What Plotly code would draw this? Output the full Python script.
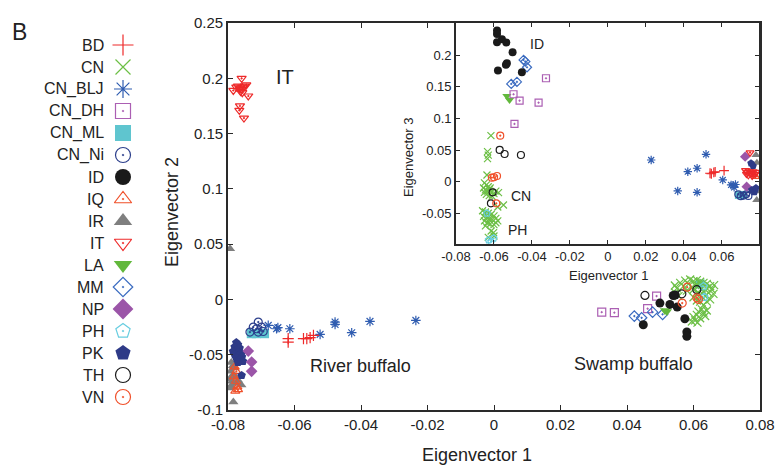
import plotly.graph_objects as go

# page body has an 8px margin; the figure is sized so it fills the 784x471 window
OFF = 8
W, H = 784 - OFF, 471 - OFF

# ---------------- data: main plot (Eigenvector 1 vs Eigenvector 2) ----------------
groups = ["BD", "CN", "CN_BLJ", "CN_DH", "CN_ML", "CN_Ni", "ID", "IQ", "IR",
          "IT", "LA", "MM", "NP", "PH", "PK", "TH", "VN"]

bd_ev1 = [-0.0619, -0.0619, -0.0573, -0.0563, -0.0553, -0.0543]
bd_ev2 = [-0.0355, -0.0386, -0.0355, -0.0355, -0.0346, -0.0325]

cn_ev1 = [0.0560, 0.0575, 0.0590, 0.0600, 0.0610, 0.0620, 0.0630, 0.0640, 0.0650, 0.0655,
          0.0645, 0.0635, 0.0625, 0.0615, 0.0605, 0.0595, 0.0585, 0.0570, 0.0580, 0.0600,
          0.0615, 0.0630, 0.0640, 0.0620, 0.0650, 0.0640, 0.0630, 0.0620, 0.0550, 0.0545,
          0.0555, 0.0600, 0.0610, 0.0660, 0.0662, 0.0544,
          0.0625, 0.0615, 0.0630, 0.0610, 0.0600, 0.0620, 0.0605, 0.0595, 0.0612, 0.0635, 0.0640]
cn_ev2 = [0.0150, 0.0170, 0.0180, 0.0165, 0.0175, 0.0160, 0.0150, 0.0140, 0.0120, 0.0090,
          0.0060, 0.0030, 0.0100, 0.0120, 0.0130, 0.0110, 0.0140, 0.0120, 0.0080, 0.0090,
          0.0060, 0.0070, 0.0100, 0.0040, 0.0000, -0.0020, -0.0050, -0.0020, 0.0100, 0.0060,
          0.0030, 0.0020, -0.0010, 0.0050, 0.0130, 0.0126,
          -0.0090, -0.0110, -0.0120, -0.0140, -0.0160, -0.0170, -0.0190, -0.0200, -0.0210, -0.0150, -0.0100]

blj_ev1 = [-0.0679, -0.0654, -0.0650, -0.0614, -0.0523, -0.0478, -0.0478, -0.0428, -0.0373, -0.0235]
blj_ev2 = [-0.0235, -0.0265, -0.0255, -0.0265, -0.0316, -0.0205, -0.0226, -0.0301, -0.0199, -0.0190]

dh_ev1 = [0.0324, 0.0362, 0.0489, 0.0462]
dh_ev2 = [-0.0115, -0.0120, 0.0030, -0.0084]

ml_ev1 = [-0.0730, -0.0715, -0.0700, -0.0690, 0.0620]
ml_ev2 = [-0.0310, -0.0310, -0.0305, -0.0310, 0.0140]

ni_ev1 = [-0.0709, -0.0724, -0.0699, -0.0714, -0.0734, -0.0709, -0.0694]
ni_ev2 = [-0.0205, -0.0250, -0.0250, -0.0265, -0.0295, -0.0295, -0.0290]

id_ev1 = [0.0449, 0.0499, 0.0529, 0.0539, 0.0551, 0.0574, 0.0580, 0.0580, 0.0545]
id_ev2 = [-0.0229, -0.0033, -0.0045, 0.0036, -0.0069, -0.0175, -0.0295, -0.0334, 0.0040]

iq_ev1 = [-0.0780, -0.0775, -0.0782, -0.0776, -0.0772, -0.0778, -0.0770]
iq_ev2 = [-0.0610, -0.0650, -0.0700, -0.0740, -0.0790, -0.0830, -0.0815]

ir_ev1 = [-0.0794, -0.0790, -0.0785, -0.0780, -0.0792, -0.0784, -0.0778, -0.0795,
          -0.0788, -0.0775, -0.0790, -0.0760, -0.0784, -0.0795, -0.0770]
ir_ev2 = [0.0458, -0.0570, -0.0600, -0.0620, -0.0650, -0.0680, -0.0700, -0.0720,
          -0.0740, -0.0760, -0.0780, -0.0775, -0.0928, -0.0800, -0.0730]

it_ev1 = [-0.0759, -0.0784, -0.0775, -0.0770, -0.0765, -0.0760, -0.0755, -0.0750,
          -0.0745, -0.0762, -0.0757, -0.0739, -0.0764, -0.0766, -0.0752]
it_ev2 = [0.200, 0.189, 0.192, 0.193, 0.191, 0.190, 0.192, 0.193,
          0.194, 0.188, 0.187, 0.184, 0.175, 0.171, 0.164]

la_ev1 = [0.0514, 0.0520]
la_ev2 = [-0.0099, -0.0110]

mm_ev1 = [0.0422, 0.0444, 0.0477, 0.0507]
mm_ev2 = [-0.0151, -0.0166, -0.0115, -0.0135]

np_ev1 = [-0.0739, -0.0729, -0.0729]
np_ev2 = [-0.0467, -0.0566, -0.0650]

ph_ev1 = [0.0630, 0.0632]
ph_ev2 = [0.0117, 0.0020]

pk_ev1 = [-0.0775, -0.0770, -0.0780, -0.0765, -0.0775, -0.0785, -0.0770, -0.0760,
          -0.0780, -0.0770, -0.0758, -0.0775, -0.0765, -0.0755, -0.0770, -0.0759]
pk_ev2 = [-0.0390, -0.0410, -0.0430, -0.0440, -0.0460, -0.0470, -0.0480, -0.0490,
          -0.0500, -0.0510, -0.0520, -0.0530, -0.0545, -0.0560, -0.0570, -0.0687]

th_ev1 = [0.0454, 0.0565, 0.0610]
th_ev2 = [0.0036, 0.0051, 0.0088]

vn_ev1 = [0.0581, 0.0566, 0.0610, 0.0615]
vn_ev2 = [0.0111, -0.0033, 0.0015, 0.0000]

# ---------------- data: inset (Eigenvector 1 vs Eigenvector 3) ----------------
bd_in1 = [0.0538, 0.0558, 0.0565, 0.0612, 0.0545]
bd_in3 = [0.0133, 0.0147, 0.0155, 0.0174, 0.0125]

cn_in1 = [-0.0616, -0.0634, -0.0630, -0.0634, -0.0637,
          -0.0650, -0.0640, -0.0630, -0.0620, -0.0655, -0.0645, -0.0635, -0.0625, -0.0615,
          -0.0600, -0.0640, -0.0625, -0.0610, -0.0590, -0.0576, -0.0650,
          -0.0550, -0.0580,
          -0.0660, -0.0645, -0.0630, -0.0615, -0.0600, -0.0655, -0.0640, -0.0625, -0.0610,
          -0.0590, -0.0580, -0.0650, -0.0635, -0.0620, -0.0600, -0.0645, -0.0590, -0.0602,
          -0.0630, -0.0600, -0.0615]
cn_in3 = [0.0728, 0.0475, 0.0420, 0.0364, 0.0106,
          -0.0020, -0.0050, -0.0080, -0.0100, -0.0100, -0.0130, -0.0150, -0.0120, -0.0170,
          -0.0190, -0.0200, -0.0220, -0.0230, -0.0150, -0.0174, -0.0170,
          -0.0369, -0.0400,
          -0.0460, -0.0480, -0.0500, -0.0520, -0.0540, -0.0550, -0.0570, -0.0590, -0.0600,
          -0.0580, -0.0620, -0.0620, -0.0650, -0.0670, -0.0680, -0.0700, -0.0650, -0.0807,
          -0.0880, -0.0860, -0.0780]

blj_in1 = [0.0228, 0.0368, 0.0421, 0.0470, 0.0470, 0.0517, 0.0605, 0.0649, 0.0660, 0.0672, 0.0665]
blj_in3 = [0.0343, -0.0147, 0.0158, 0.0212, -0.0168, 0.0433, 0.0027, -0.0052, -0.0060, -0.0045, -0.0090]

dh_in1 = [-0.0326, -0.0497, -0.0465, -0.0365, -0.0492]
dh_in3 = [0.1636, 0.1383, 0.1282, 0.1250, 0.0913]

ml_in1 = [0.0690, 0.0700, 0.0712]
ml_in3 = [-0.0210, -0.0215, -0.0210]

ni_in1 = [0.0687, 0.0700, 0.0715, 0.0728, 0.0740]
ni_in3 = [-0.0200, -0.0230, -0.0220, -0.0200, -0.0225]

id_in1 = [-0.0584, -0.0584, -0.0558, -0.0584, -0.0535, -0.0502, -0.0532, -0.0537, -0.0579, -0.0453]
id_in3 = [0.2390, 0.2337, 0.2253, 0.2206, 0.2200, 0.2047, 0.1873, 0.1850, 0.1757, 0.1730]

iq_in1 = [0.0770, 0.0778]
iq_in3 = [0.0110, 0.0080]

ir_in1 = [0.0780, 0.0784, 0.0785, 0.0782]
ir_in3 = [0.0420, -0.0290, 0.0300, -0.0150]

it_in1 = [0.0749, 0.0725, 0.0735, 0.0745, 0.0755, 0.0765, 0.0775, 0.0740, 0.0760, 0.0780, 0.0730]
it_in3 = [0.0459, 0.0180, 0.0150, 0.0170, 0.0130, 0.0160, 0.0120, 0.0100, 0.0090, 0.0150, 0.0120]

la_in1 = [-0.0532, -0.0518]
la_in3 = [0.1356, 0.1293]

mm_in1 = [-0.0444, -0.0435, -0.0426, -0.0509, -0.0479]
mm_in3 = [0.1926, 0.1900, 0.1810, 0.1546, 0.1578]

np_in1 = [0.0723, 0.0731]
np_in3 = [0.0396, -0.0079]

ph_in1 = [-0.0637, -0.0628, -0.0602, -0.0615]
ph_in3 = [-0.0500, -0.0923, -0.0896, -0.0950]

pk_in1 = [0.0754, 0.0765, 0.0758, 0.0772, 0.0780]
pk_in3 = [0.0291, 0.0250, -0.0131, -0.0163, -0.0100]

th_in1 = [-0.0570, -0.0544, -0.0458, -0.0607, -0.0616]
th_in3 = [0.0502, 0.0438, 0.0422, -0.0168, -0.0342]

vn_in1 = [-0.0567, -0.0611, -0.0584, -0.0588, -0.0600]
vn_in3 = [0.0728, 0.0063, 0.0090, -0.0342, 0.0070]

main_x_ticks = [-0.08, -0.06, -0.04, -0.02, 0, 0.02, 0.04, 0.06, 0.08]
main_x_labels = ["-0.08", "-0.06", "-0.04", "-0.02", "0", "0.02", "0.04", "0.06", "0.08"]
main_y_ticks = [-0.1, -0.05, 0, 0.05, 0.1, 0.15, 0.2, 0.25]
main_y_labels = ["-0.1", "-0.05", "0", "0.05", "0.1", "0.15", "0.2", "0.25"]
in_x_ticks = [-0.08, -0.06, -0.04, -0.02, 0, 0.02, 0.04, 0.06]
in_x_labels = ["-0.08", "-0.06", "-0.04", "-0.02", "0", "0.02", "0.04", "0.06"]
in_y_ticks = [-0.1, -0.05, 0, 0.05, 0.1, 0.15, 0.2]
in_y_labels = ["-0.1", "-0.05", "0", "0.05", "0.1", "0.15", "0.2"]

# ---------------- styles ----------------
main_data = {
    "BD": (bd_ev1, bd_ev2), "CN": (cn_ev1, cn_ev2), "CN_BLJ": (blj_ev1, blj_ev2),
    "CN_DH": (dh_ev1, dh_ev2), "CN_ML": (ml_ev1, ml_ev2), "CN_Ni": (ni_ev1, ni_ev2),
    "ID": (id_ev1, id_ev2), "IQ": (iq_ev1, iq_ev2), "IR": (ir_ev1, ir_ev2),
    "IT": (it_ev1, it_ev2), "LA": (la_ev1, la_ev2), "MM": (mm_ev1, mm_ev2),
    "NP": (np_ev1, np_ev2), "PH": (ph_ev1, ph_ev2), "PK": (pk_ev1, pk_ev2),
    "TH": (th_ev1, th_ev2), "VN": (vn_ev1, vn_ev2),
}
inset_data = {
    "BD": (bd_in1, bd_in3), "CN": (cn_in1, cn_in3), "CN_BLJ": (blj_in1, blj_in3),
    "CN_DH": (dh_in1, dh_in3), "CN_ML": (ml_in1, ml_in3), "CN_Ni": (ni_in1, ni_in3),
    "ID": (id_in1, id_in3), "IQ": (iq_in1, iq_in3), "IR": (ir_in1, ir_in3),
    "IT": (it_in1, it_in3), "LA": (la_in1, la_in3), "MM": (mm_in1, mm_in3),
    "NP": (np_in1, np_in3), "PH": (ph_in1, ph_in3), "PK": (pk_in1, pk_in3),
    "TH": (th_in1, th_in3), "VN": (vn_in1, vn_in3),
}

style = {
    "BD": ("cross-thin-open", "#ee2a2a"),
    "CN": ("x-thin-open", "#6cbf45"),
    "CN_BLJ": ("asterisk-open", "#2f5cb0"),
    "CN_DH": ("square-open-dot", "#ab5fb3"),
    "CN_ML": ("square", "#5fc5cf"),
    "CN_Ni": ("circle-open-dot", "#2c3f8c"),
    "ID": ("circle", "#1a1a1a"),
    "IQ": ("triangle-up-open-dot", "#f0502a"),
    "IR": ("triangle-up", "#7f7f7f"),
    "IT": ("triangle-down-open-dot", "#ee2a2a"),
    "LA": ("triangle-down", "#62b83c"),
    "MM": ("diamond-open-dot", "#3a6bc0"),
    "NP": ("diamond", "#9b55a8"),
    "PH": ("pentagon-open-dot", "#67cde0"),
    "PK": ("pentagon", "#2e3a87"),
    "TH": ("circle-open", "#1a1a1a"),
    "VN": ("circle-open-dot", "#f0502a"),
}

FONT = "Arial, Liberation Sans, Helvetica, sans-serif"
TXT = "#222222"
AX = "#2a2a2a"

fig = go.Figure()


def marker(sym, col, size):
    if "open" in sym:
        return dict(symbol=sym, size=size, color=col, line=dict(color=col, width=1.2))
    return dict(symbol=sym, size=size + 1, color=col, line=dict(width=0))


order_main = ["IR", "IQ", "PK", "NP", "CN_ML", "CN_Ni", "CN_BLJ", "BD", "IT",
              "CN", "PH", "CN_DH", "MM", "LA", "ID", "TH", "VN"]
for g in order_main:
    xs, ys = main_data[g]
    sym, col = style[g]
    fig.add_trace(go.Scatter(x=xs, y=ys, mode="markers", xaxis="x", yaxis="y",
                             marker=marker(sym, col, 8), showlegend=False, name=g))

order_in = ["CN", "PH", "TH", "VN", "LA", "CN_DH", "MM", "ID", "CN_BLJ", "BD",
            "CN_ML", "CN_Ni", "NP", "IR", "IQ", "IT", "PK"]
for g in order_in:
    xs, ys = inset_data[g]
    sym, col = style[g]
    fig.add_trace(go.Scatter(x=xs, y=ys, mode="markers", xaxis="x2", yaxis="y2",
                             marker=marker(sym, col, 7), showlegend=False, name=g))

# geometry, in window pixels (converted to figure pixels by removing OFF)
MX0, MX1, MY0, MY1 = 228, 760, 23, 410
IX0, IX1, IY0, IY1 = 456, 759, 23, 244


def px(v):
    return (v - OFF) / W


def py(v):
    return 1 - (v - OFF) / H


# custom legend (symbol to the right of the label), drawn on a pixel-unit axis
LEG_X_SYM = 123 - OFF
LEG_X_TXT = 106 - OFF
LEG_Y0 = 45 - OFF
LEG_DY = 22.0
for i, g in enumerate(groups):
    sym, col = style[g]
    yy = LEG_Y0 + i * LEG_DY
    fig.add_trace(go.Scatter(x=[LEG_X_SYM], y=[yy], mode="markers", xaxis="x3", yaxis="y3",
                             marker=marker(sym, col, 15), showlegend=False, name=g))
    fig.add_annotation(x=LEG_X_TXT, y=yy, xref="x3", yref="y3", text=g, showarrow=False,
                       xanchor="right", yanchor="middle",
                       font=dict(family=FONT, size=16, color=TXT))

axis_common = dict(showgrid=False, zeroline=False, showline=True, linecolor=AX,
                   mirror="allticks", ticks="inside", tickcolor=AX, automargin=False)

fig.update_layout(
    width=W, height=H,
    margin=dict(l=0, r=0, t=0, b=0, pad=0),
    paper_bgcolor="white", plot_bgcolor="white",
    font=dict(family=FONT, color=TXT),
    showlegend=False,
    xaxis=dict(domain=[px(MX0), px(MX1)], range=[-0.08, 0.08], tickvals=main_x_ticks,
               ticktext=main_x_labels, tickfont=dict(size=15, color=TXT), ticklen=5,
               linewidth=1.6, tickwidth=1.2, anchor="y", **axis_common),
    yaxis=dict(domain=[py(MY1), py(MY0)], range=[-0.1, 0.25], tickvals=main_y_ticks,
               ticktext=main_y_labels, tickfont=dict(size=15, color=TXT), ticklen=5,
               linewidth=1.6, tickwidth=1.2, anchor="x", **axis_common),
    xaxis2=dict(domain=[px(IX0), px(IX1)], range=[-0.08, 0.0796], tickvals=in_x_ticks,
                ticktext=in_x_labels, tickfont=dict(size=13, color=TXT), ticklen=4,
                linewidth=1.6, tickwidth=1.1, anchor="y2", **axis_common),
    yaxis2=dict(domain=[py(IY1), py(IY0)], range=[-0.0986, 0.251], tickvals=in_y_ticks,
                ticktext=in_y_labels, tickfont=dict(size=13, color=TXT), ticklen=4,
                linewidth=1.6, tickwidth=1.1, anchor="x2", **axis_common),
    xaxis3=dict(domain=[0, px(196)], range=[0, 196 - OFF], visible=False, anchor="y3",
                automargin=False),
    yaxis3=dict(domain=[0, 1], range=[H, 0], visible=False, anchor="x3",
                automargin=False),
)

# white background behind inset (below traces)
fig.add_shape(type="rect", xref="paper", yref="paper", x0=px(IX0), x1=px(IX1),
              y0=py(IY1), y1=py(IY0), fillcolor="white", line=dict(width=0), layer="below")


def label(text, x, y, size, angle=0):
    fig.add_annotation(x=px(x), y=py(y), xref="paper", yref="paper", text=text,
                       showarrow=False, textangle=angle, xanchor="center", yanchor="middle",
                       font=dict(family=FONT, size=size, color=TXT))


label("B", 19, 32, 23)
label("Eigenvector 1", 477, 455, 18)
label("Eigenvector 2", 172, 212, 18, -90)
label("Eigenvector 1", 609, 275, 13)
label("Eigenvector 3", 408, 157, 13, -90)
label("IT", 285, 77, 20)
label("River buffalo", 360, 366, 18)
label("Swamp buffalo", 633, 364, 18)
label("ID", 537, 44, 14)
label("CN", 521, 196, 14)
label("PH", 517, 230, 14)

fig.write_html("out.html")
